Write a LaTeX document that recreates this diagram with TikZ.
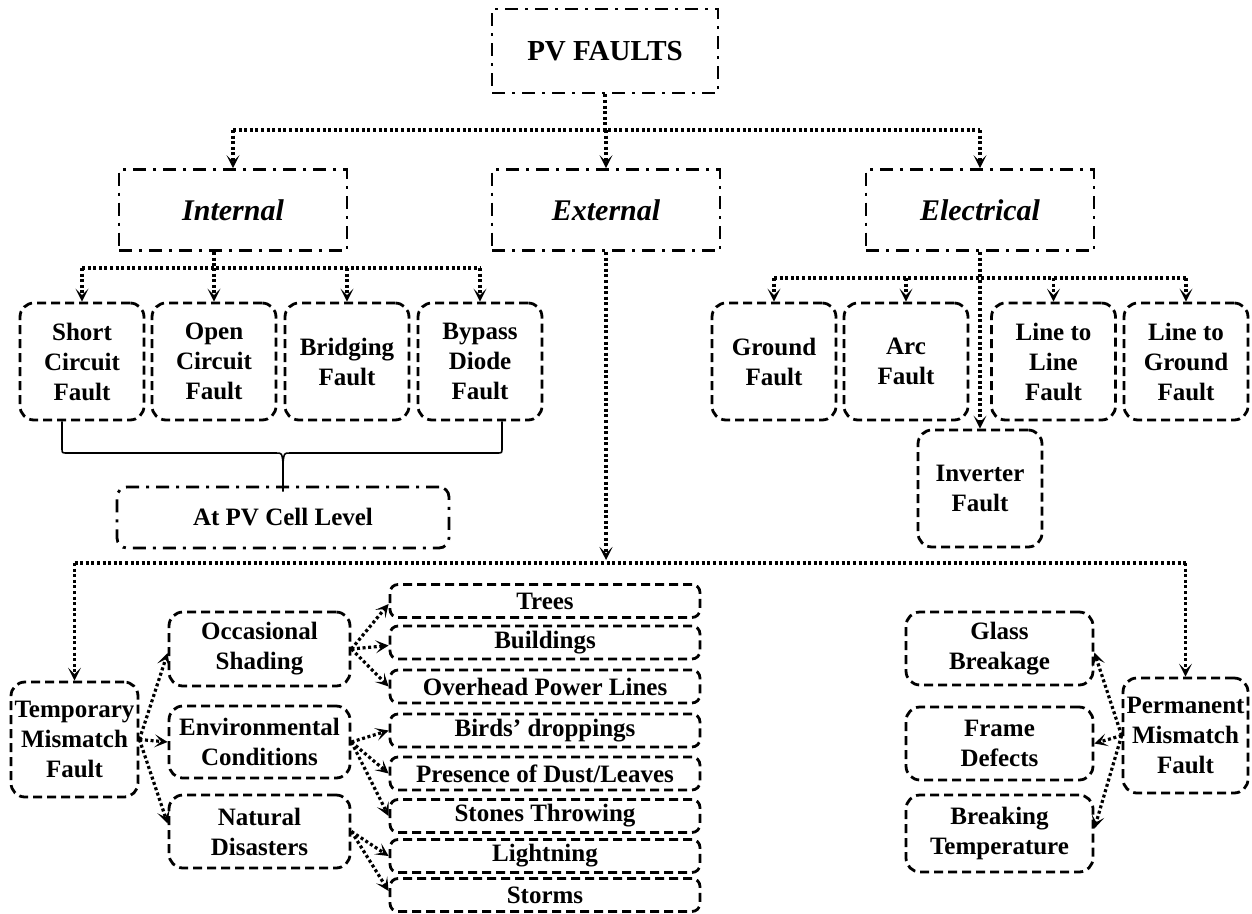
\documentclass[tikz,border=0pt]{standalone}
\usepackage{fontspec}
\setmainfont{Liberation Serif}
\usetikzlibrary{arrows.meta,calc}
\begin{document}
\begin{tikzpicture}[x=1pt,y=-1pt,
  dd/.style={draw,line width=2.8pt,dash pattern=on 13pt off 7pt on 3pt off 7pt},
  ddbox/.style={dd,minimum width=228pt,minimum height=81pt,inner sep=0pt,font=\bfseries\itshape\fontsize{30}{34}\selectfont},
  rb/.style={draw,line width=2.8pt,dash pattern=on 9pt off 5pt,rounded corners=14pt,align=center,inner sep=0pt,font=\bfseries\fontsize{25}{30}\selectfont},
  fb/.style={rb,minimum width=124pt,minimum height=117pt},
  lb/.style={rb,rounded corners=8pt,minimum width=310pt,minimum height=33pt},
  dl/.style={line width=3.2pt,dash pattern=on 3pt off 2.6pt},
  arr/.style={dl,-{Stealth[length=13pt,width=13pt,inset=6.5pt]}},
  bracel/.style={line width=1.6pt},
]
\fill[white] (0,0) rectangle (1252,913);
\useasboundingbox (0,0) rectangle (1252,913);

% top level
\node[ddbox,minimum width=226pt,minimum height=84pt,font=\bfseries\fontsize{29}{34}\selectfont] (pv) at (605,51) {PV FAULTS};
\node[ddbox] (int) at (233,210) {Internal};
\node[ddbox] (ext) at (606,210) {External};
\node[ddbox] (ele) at (980,210) {Electrical};

% internal children
\node[fb] (sc) at (82,361.5) {Short\\Circuit\\Fault};
\node[fb] (oc) at (214,361.5) {Open\\Circuit\\Fault};
\node[fb] (bf) at (347,361.5) {Bridging\\Fault};
\node[fb] (bd) at (480,361.5) {Bypass\\Diode\\Fault};
\node[dd,rounded corners=10pt,minimum width=332pt,minimum height=61pt,inner sep=0pt,font=\bfseries\fontsize{25}{30}\selectfont] (cell) at (283,517.5) {At PV Cell Level};

% electrical children
\node[fb] (gf) at (774,361.5) {Ground\\Fault};
\node[fb] (af) at (906,361.5) {Arc\\Fault};
\node[fb] (llf) at (1053.5,361.5) {Line to\\Line\\Fault};
\node[fb] (lgf) at (1186,361.5) {Line to\\Ground\\Fault};
\node[fb] (inv) at (980,488.5) {Inverter\\Fault};

% external: temporary
\node[rb,minimum width=127pt,minimum height=115pt] (tmp) at (74.5,739.5) {Temporary\\Mismatch\\Fault};
\node[rb,minimum width=181pt,minimum height=74pt] (occ) at (259.5,649) {Occasional\\Shading};
\node[rb,minimum width=181pt,minimum height=72pt] (env) at (259.5,742) {Environmental\\Conditions};
\node[rb,minimum width=181pt,minimum height=73pt] (nat) at (259.5,831.5) {Natural\\Disasters};
\node[lb] (trees) at (545,601) {Trees};
\node[lb] (bldg) at (545,642.5) {Buildings};
\node[lb] (ohl) at (545,686.5) {Overhead Power Lines};
\node[lb] (bird) at (545,730.5) {Birds’ droppings};
\node[lb] (dust) at (545,773.5) {Presence of Dust/Leaves};
\node[lb] (stone) at (545,816) {Stones Throwing};
\node[lb] (light) at (545,856) {Lightning};
\node[lb] (storm) at (545,895) {Storms};

% external: permanent
\node[rb,minimum width=125pt,minimum height=115pt] (pm) at (1185.5,735.5) {Permanent\\Mismatch\\Fault};
\node[rb,minimum width=187pt,minimum height=73pt] (gb) at (999.5,648.5) {Glass\\Breakage};
\node[rb,minimum width=187pt,minimum height=73pt] (fd) at (999.5,743.5) {Frame\\Defects};
\node[rb,minimum width=187pt,minimum height=77pt] (bt) at (999.5,833.5) {Breaking\\Temperature};

% top connectors
\coordinate (tb) at (0,130);
\draw[dl] (pv.south) -- (pv.south |- tb);
\draw[dl] (int.north |- tb) -- (ele.north |- tb);
\draw[arr] (int.north |- tb) -- (int.north);
\draw[arr] (ext.north |- tb) -- (ext.north);
\draw[arr] (ele.north |- tb) -- (ele.north);

% internal connectors
\coordinate (ibus) at (0,268);
\draw[dl] (sc.north |- ibus) -- (bd.north |- ibus);
\draw[dl] (int.south -| oc.north) -- (oc.north |- ibus);
\foreach \n in {sc,oc,bf,bd} \draw[arr] (\n.north |- ibus) -- (\n.north);

% brace
\coordinate (bry) at (0,453);
\coordinate (bl) at ($(sc.south)+(-20,0)$);
\coordinate (br) at ($(bd.south)+(22,0)$);
\coordinate (bm) at ($(cell.north)+(0,6)$);
\draw[bracel] (bl) -- ($(bl |- bry)+(0,-5)$) .. controls (bl |- bry) .. ($(bl |- bry)+(5,0)$)
  -- ($(bm |- bry)+(-7,0)$) .. controls ($(bm |- bry)+(-1,0)$) .. ($(bm |- bry)+(0,10)$) -- (bm);
\draw[bracel] (br) -- ($(br |- bry)+(0,-5)$) .. controls (br |- bry) .. ($(br |- bry)+(-5,0)$)
  -- ($(bm |- bry)+(7,0)$) .. controls ($(bm |- bry)+(1,0)$) .. ($(bm |- bry)+(0,10)$);

% electrical connectors
\coordinate (ebus) at (0,278);
\draw[dl] (gf.north |- ebus) -- (lgf.north |- ebus);
\draw[arr] (ele.south) -- (inv.north);
\foreach \n in {gf,af,llf,lgf} \draw[arr] (\n.north |- ebus) -- (\n.north);

% external connectors
\coordinate (xbus) at (0,563);
\draw[arr] (ext.south) -- ($(ext.south |- xbus)+(0,-3)$);
\draw[dl] (tmp.north |- xbus) -- (pm.north |- xbus);
\draw[arr] (tmp.north |- xbus) -- (tmp.north);
\draw[arr] (pm.north |- xbus) -- (pm.north);

% temporary branches
\draw[arr] (tmp.east) -- ($(occ.west)+(0,4)$);
\draw[arr] (tmp.east) -- (env.west);
\draw[arr] (tmp.east) -- ($(nat.west)+(0,-8)$);
\draw[arr] (occ.east) -- ($(trees.west)+(0,3)$);
\draw[arr] (occ.east) -- ($(bldg.west)+(0,3)$);
\draw[arr] (occ.east) -- (ohl.west);
\draw[arr] (env.east) -- (bird.west);
\draw[arr] (env.east) -- (dust.west);
\draw[arr] (env.east) -- (stone.west);
\draw[arr] (nat.east) -- (light.west);
\draw[arr] (nat.east) -- ($(storm.west)+(0,-4)$);

% permanent branches
\draw[arr] (pm.west) -- ($(gb.east)+(0,4)$);
\draw[arr] (pm.west) -- (fd.east);
\draw[arr] (pm.west) -- ($(bt.east)+(0,-5)$);
\end{tikzpicture}
\end{document}
